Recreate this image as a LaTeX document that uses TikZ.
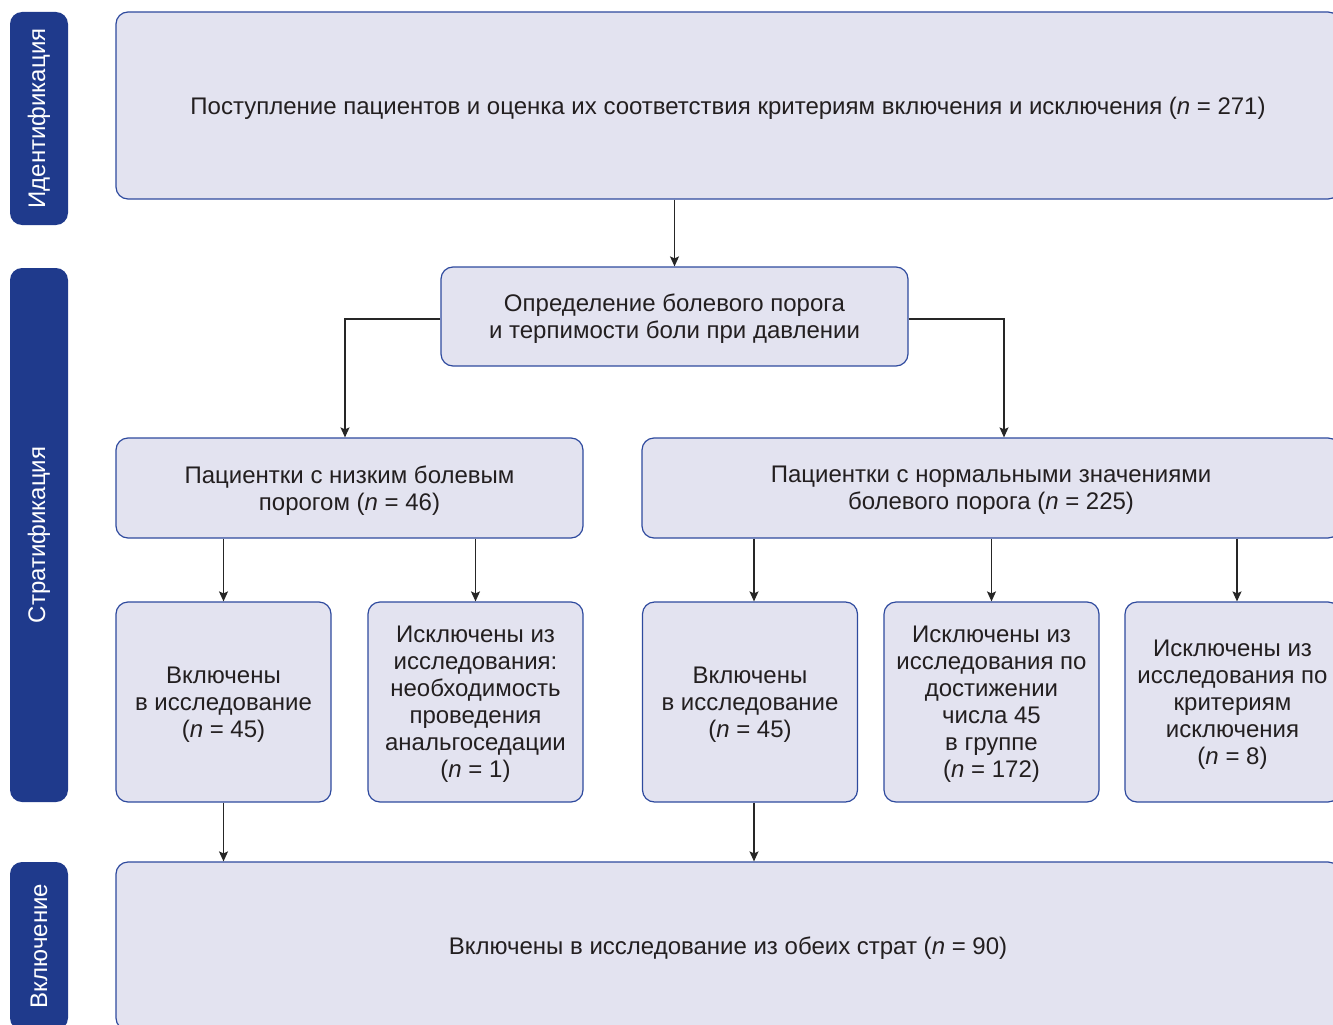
\documentclass[tikz,border=0pt]{standalone}
\usepackage{fontspec}
\setmainfont{Liberation Sans}
\usepackage{xcolor}
\usetikzlibrary{calc,arrows.meta}

\definecolor{boxfill}{HTML}{E3E3F0}
\definecolor{boxline}{HTML}{2E4A9E}
\definecolor{sidefill}{HTML}{1F3A8C}
\definecolor{textgrey}{HTML}{231F20}

\tikzset{
    stage/.style={rectangle, rounded corners=12pt, fill=boxfill, draw=boxline, line width=1.2pt,
        align=center, text=textgrey, font=\fontsize{24}{27}\selectfont, inner sep=0pt, text depth=0pt},
    side/.style={rectangle, rounded corners=12pt, fill=sidefill, draw=none, rotate=90,
        text=white, font=\fontsize{24}{27}\selectfont, minimum height=58pt, inner sep=0pt},
    arr/.style={-{Stealth[length=10pt, width=9pt, inset=2pt]}, line width=1.3pt, draw=black!85}
}

\begin{document}
\begin{tikzpicture}[x=1pt, y=-1pt]
            \useasboundingbox (0, 0) rectangle (1333, 1025);
            \clip (0, 0) rectangle (1333, 1025);
    
            % side labels
            \node[side, minimum width=213pt] (sideid) at (39, 118.5) {Идентификация};
            \node[side, minimum width=534pt] (sidestrat) at (39, 535) {Стратификация};
            \node[side, minimum width=168pt] (sideincl) at (39, 946) {Включение};
    
            % boxes
            \node[stage, minimum width=1224pt, minimum height=187pt] (top) at (728, 105.5)
                {Поступление пациентов и оценка их соответствия критериям включения и исключения (\textit{n} = 271)};
            \node[stage, minimum width=467pt, minimum height=99pt] (mid) at (674.5, 316.5)
                {Определение болевого порога\\и терпимости боли при давлении};
            \node[stage, minimum width=467pt, minimum height=100pt] (low) at (349.5, 488)
                {Пациентки с низким болевым\\порогом (\textit{n} = 46)};
            \node[stage, minimum width=698pt, minimum height=100pt] (norm) at (991, 488)
                {Пациентки с нормальными значениями\\болевого порога (\textit{n} = 225)};
    
            \node[stage, minimum width=215pt, minimum height=200pt] (lowin) at (223.5, 702)
                {Включены\\в исследование\\(\textit{n} = 45)};
            \node[stage, minimum width=215pt, minimum height=200pt] (lowout) at (475.5, 702)
                {Исключены из\\исследования:\\необходимость\\проведения\\анальгоседации\\(\textit{n} = 1)};
            \node[stage, minimum width=215pt, minimum height=200pt] (normin) at (750, 702)
                {Включены\\в исследование\\(\textit{n} = 45)};
            \node[stage, minimum width=215pt, minimum height=200pt] (normfull) at (991.5, 702)
                {Исключены из\\исследования по\\достижении\\числа 45\\в группе\\(\textit{n} = 172)};
            \node[stage, minimum width=215pt, minimum height=200pt] (normcrit) at (1232.5, 702)
                {Исключены из\\исследования по\\критериям\\исключения\\(\textit{n} = 8)};
    
            \node[stage, minimum width=1224pt, minimum height=168pt] (final) at (728, 946)
                {Включены в исследование из обеих страт (\textit{n} = 90)};
    
            % connectors
            \draw [arr] (top.south -| mid) -- (mid.north);
            \draw [arr] ([yshift=-2.5pt]mid.west) -| ([xshift=-4.5pt]low.north);
            \draw [arr] ([yshift=-2.5pt]mid.east) -| ([xshift=13pt]norm.north);
    
            \draw [arr] (low.south -| lowin) -- (lowin.north);
            \draw [arr] (low.south -| lowout) -- (lowout.north);
            \draw [arr] ([xshift=4pt]norm.south -| normin) -- ([xshift=4pt]normin.north);
            \draw [arr] (norm.south -| normfull) -- (normfull.north);
            \draw [arr] ([xshift=4.5pt]norm.south -| normcrit) -- ([xshift=4.5pt]normcrit.north);
    
            \draw [arr] (lowin.south) -- (lowin.south |- final.north);
            \draw [arr] ([xshift=4pt]normin.south) -- ([xshift=4pt]normin.south |- final.north);
        \end{tikzpicture}
\end{document}
